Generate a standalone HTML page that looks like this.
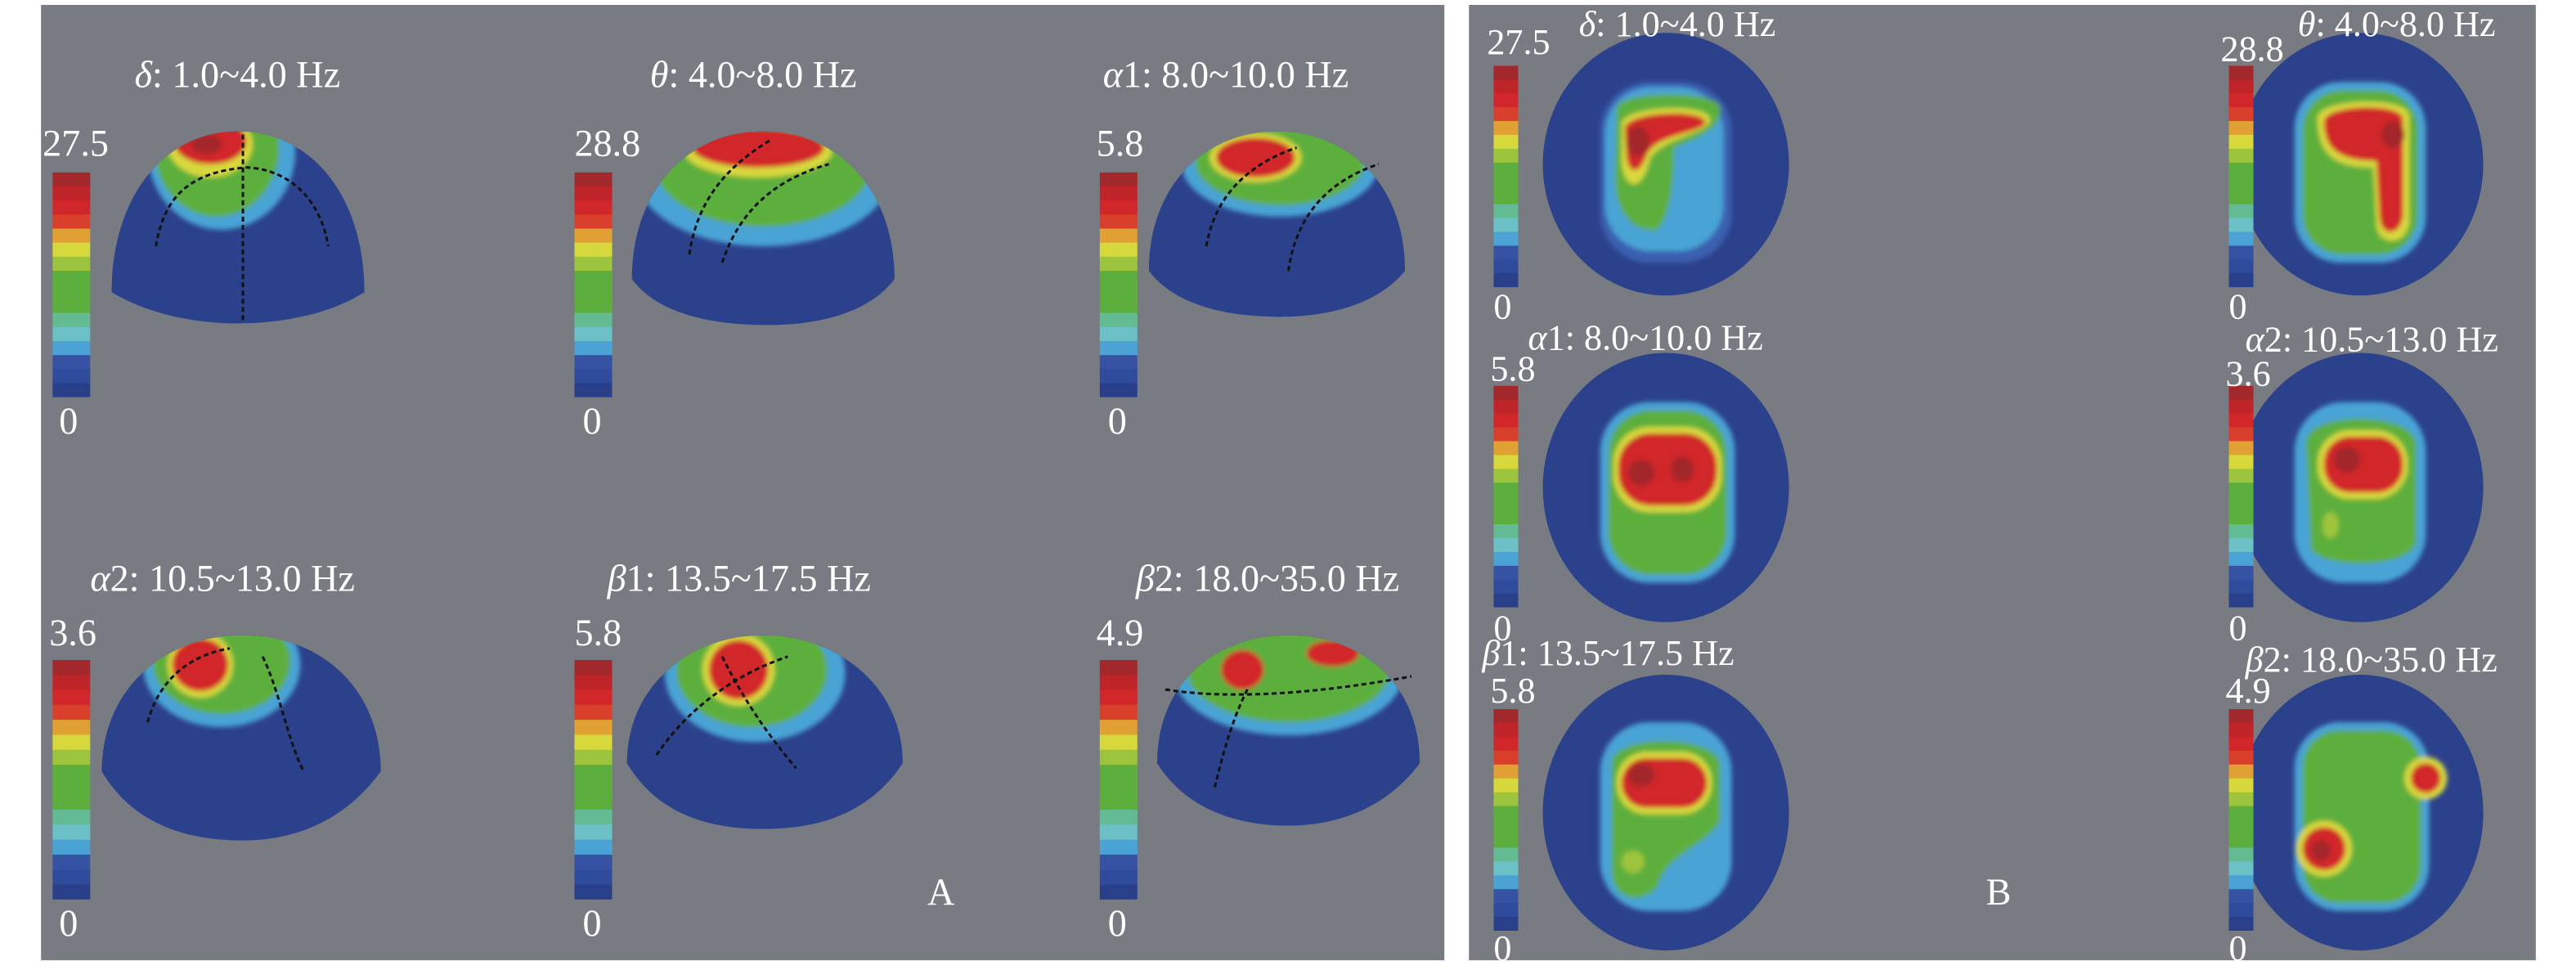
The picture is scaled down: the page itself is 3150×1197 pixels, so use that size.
<!DOCTYPE html>
<html><head><meta charset="utf-8"><style>
html,body{margin:0;padding:0;background:#fff;}
svg{display:block}
text{font-family:"Liberation Serif",serif;fill:#fff;}
</style></head><body>
<svg width="3150" height="1197" viewBox="0 0 1569.5 596.4" preserveAspectRatio="none" xmlns="http://www.w3.org/2000/svg">
<defs>
<filter id="bl" x="-20%" y="-20%" width="140%" height="140%"><feGaussianBlur stdDeviation="1.5"/></filter>
<symbol id="cb" viewBox="0 0 10 16" preserveAspectRatio="none">
<rect y="0" width="10" height="1.05" fill="#a3282b"/><rect y="1" width="10" height="1.05" fill="#bf2428"/>
<rect y="2" width="10" height="1.05" fill="#d1272a"/><rect y="3" width="10" height="1.05" fill="#d9402c"/>
<rect y="4" width="10" height="1.05" fill="#e0a033"/><rect y="5" width="10" height="1.05" fill="#d7d83c"/>
<rect y="6" width="10" height="1.05" fill="#9dc43d"/><rect y="7" width="10" height="3.05" fill="#5daf3d"/>
<rect y="10" width="10" height="1.05" fill="#62bb93"/><rect y="11" width="10" height="1.05" fill="#6bc1c6"/>
<rect y="12" width="10" height="1.05" fill="#4aa3d4"/><rect y="13" width="10" height="1.05" fill="#3653a3"/>
<rect y="14" width="10" height="1.05" fill="#2e4b9c"/><rect y="15" width="10" height="1" fill="#2a3f8a"/>
</symbol>
<path id="p1" d="M68,178 C68,120 100,80 145,80 C190,80 222,120 222,178 C200,192 170,197 145,197 C115,197 88,190 68,178 Z"/>
<path id="p2" d="M385,170 C385,115 420,80 465,80 C510,80 545,115 545,170 C530,190 500,198 468,198 C430,198 400,190 385,170 Z"/>
<path id="p3" d="M700,165 C700,112 735,80 778,80 C821,80 856,112 856,165 C840,185 810,193 780,193 C745,193 715,185 700,165 Z"/>
<path id="p4" d="M62,470 C62,420 100,387 148,387 C196,387 232,420 232,470 C210,500 180,512 148,512 C110,512 80,500 62,470 Z"/>
<path id="p5" d="M382,465 C382,418 420,387 465,387 C510,387 550,418 550,465 C530,495 500,505 465,505 C430,505 400,495 382,465 Z"/>
<path id="p6" d="M705,465 C705,415 742,387 785,387 C828,387 865,415 865,465 C845,492 815,503 785,503 C752,503 722,492 705,465 Z"/>
<clipPath id="h1"><use href="#p1"/></clipPath><clipPath id="h2"><use href="#p2"/></clipPath>
<clipPath id="h3"><use href="#p3"/></clipPath><clipPath id="h4"><use href="#p4"/></clipPath>
<clipPath id="h5"><use href="#p5"/></clipPath><clipPath id="h6"><use href="#p6"/></clipPath>
</defs>
<rect width="1569.5" height="596.4" fill="#fff"/>
<rect x="25" y="3" width="855" height="582" fill="#787b82"/>
<rect x="895" y="3" width="650" height="582" fill="#787b82"/>

<!-- Panel A heads -->
<use href="#p1" fill="#2c418b"/><use href="#p2" fill="#2c418b"/><use href="#p3" fill="#2c418b"/>
<use href="#p4" fill="#2c418b"/><use href="#p5" fill="#2c418b"/><use href="#p6" fill="#2c418b"/>
<g clip-path="url(#h1)"><g filter="url(#bl)">
<ellipse cx="135" cy="92" rx="45" ry="48" fill="#4aa3d4"/><ellipse cx="132" cy="90" rx="38" ry="42" fill="#5daf3d"/>
<ellipse cx="128" cy="88" rx="26" ry="20" fill="#d7d83c"/><ellipse cx="128" cy="86" rx="22" ry="14" fill="#d1272a"/>
<ellipse cx="126" cy="88" rx="9" ry="6" fill="#a3282b"/></g></g>
<g clip-path="url(#h2)"><g filter="url(#bl)">
<ellipse cx="465" cy="105" rx="78" ry="45" fill="#4aa3d4"/><ellipse cx="465" cy="100" rx="66" ry="38" fill="#5daf3d"/>
<ellipse cx="462" cy="92" rx="45" ry="16" fill="#d7d83c"/><ellipse cx="462" cy="90" rx="40" ry="12" fill="#d1272a"/></g></g>
<g clip-path="url(#h3)"><g filter="url(#bl)">
<ellipse cx="780" cy="100" rx="60" ry="32" fill="#4aa3d4"/><ellipse cx="780" cy="98" rx="52" ry="27" fill="#5daf3d"/>
<ellipse cx="765" cy="96" rx="28" ry="15" fill="#d7d83c"/><ellipse cx="765" cy="96" rx="24" ry="12" fill="#d1272a"/></g></g>
<g clip-path="url(#h4)"><g filter="url(#bl)">
<ellipse cx="135" cy="405" rx="48" ry="38" fill="#4aa3d4"/><ellipse cx="135" cy="403" rx="42" ry="32" fill="#5daf3d"/>
<ellipse cx="122" cy="405" rx="20" ry="20" fill="#d7d83c"/><ellipse cx="122" cy="405" rx="17" ry="16" fill="#d1272a"/></g></g>
<g clip-path="url(#h5)"><g filter="url(#bl)">
<ellipse cx="460" cy="410" rx="55" ry="42" fill="#4aa3d4"/><ellipse cx="458" cy="408" rx="46" ry="35" fill="#5daf3d"/>
<ellipse cx="450" cy="408" rx="22" ry="22" fill="#d7d83c"/><ellipse cx="450" cy="408" rx="18" ry="18" fill="#d1272a"/></g></g>
<g clip-path="url(#h6)"><g filter="url(#bl)">
<ellipse cx="785" cy="410" rx="70" ry="38" fill="#4aa3d4"/><ellipse cx="785" cy="408" rx="62" ry="32" fill="#5daf3d"/>
<ellipse cx="757" cy="408" rx="13" ry="12" fill="#d1272a"/><ellipse cx="812" cy="398" rx="16" ry="8" fill="#d1272a"/></g></g>
<!-- dotted lines -->
<g stroke="#111" stroke-width="1.5" stroke-dasharray="3,2" fill="none">
<path d="M148,82 L148,195"/><path d="M95,150 C100,120 115,105 150,102 C175,103 195,120 200,150"/>
<path d="M420,155 C425,120 445,100 470,85"/><path d="M440,160 C450,130 470,110 505,100"/>
<path d="M735,150 C740,120 760,100 790,90"/><path d="M785,165 C790,130 810,110 840,100"/>
<path d="M90,440 C95,420 110,400 140,395"/><path d="M160,400 C170,420 175,450 185,470"/>
<path d="M400,460 C420,430 450,410 480,400"/><path d="M440,400 C455,430 470,450 485,468"/>
<path d="M710,420 C740,425 790,425 860,412"/><path d="M760,420 C750,440 745,460 740,480"/>
</g>

<use href="#cb" x="32" y="105" width="23" height="137"/>
<use href="#cb" x="350" y="105" width="23" height="137"/>
<use href="#cb" x="670" y="105" width="23" height="137"/>
<use href="#cb" x="32" y="402" width="23" height="146"/>
<use href="#cb" x="350" y="402" width="23" height="146"/>
<use href="#cb" x="670" y="402" width="23" height="146"/>

<g font-size="23">
<text x="82" y="53"><tspan font-style="italic">δ</tspan>: 1.0~4.0 Hz</text>
<text x="396" y="53"><tspan font-style="italic">θ</tspan>: 4.0~8.0 Hz</text>
<text x="672" y="53"><tspan font-style="italic">α</tspan>1: 8.0~10.0 Hz</text>
<text x="55" y="360"><tspan font-style="italic">α</tspan>2: 10.5~13.0 Hz</text>
<text x="370" y="360"><tspan font-style="italic">β</tspan>1: 13.5~17.5 Hz</text>
<text x="692" y="360"><tspan font-style="italic">β</tspan>2: 18.0~35.0 Hz</text>
<text x="26" y="95">27.5</text><text x="350" y="95">28.8</text><text x="668" y="95">5.8</text>
<text x="36" y="264">0</text><text x="355" y="264">0</text><text x="675" y="264">0</text>
<text x="30" y="393">3.6</text><text x="350" y="393">5.8</text><text x="668" y="393">4.9</text>
<text x="36" y="570">0</text><text x="355" y="570">0</text><text x="675" y="570">0</text>
<text x="565" y="551">A</text>
<text x="1210" y="551">B</text>
</g>

<!-- Panel B -->
<ellipse cx="1015" cy="100" rx="75" ry="80" fill="#2c418b"/>
<ellipse cx="1438" cy="100" rx="75" ry="80" fill="#2c418b"/>
<ellipse cx="1015" cy="297" rx="75" ry="82" fill="#2c418b"/>
<ellipse cx="1438" cy="297" rx="75" ry="82" fill="#2c418b"/>
<ellipse cx="1015" cy="495" rx="75" ry="84" fill="#2c418b"/>
<ellipse cx="1438" cy="495" rx="75" ry="84" fill="#2c418b"/>
<g filter="url(#bl)">
<rect x="975" y="50" width="80" height="110" rx="30" fill="#3a61b0"/>
<rect x="978" y="53" width="72" height="100" rx="28" fill="#4aa3d4"/>
<path d="M985,65 C990,55 1045,55 1048,65 C1050,80 1030,85 1020,90 C1020,110 1018,130 1010,140 C995,142 985,130 984,110 Z" fill="#5daf3d"/>
<path d="M988,75 C990,65 1038,62 1042,72 C1043,82 1010,84 1005,98 C1000,118 990,115 988,100 Z" fill="#d7d83c"/>
<path d="M990,78 C992,68 1036,66 1039,74 C1040,81 1008,81 1003,95 C998,108 992,105 991,95 Z" fill="#d1272a"/>
<ellipse cx="998" cy="86" rx="7" ry="9" fill="#a3282b"/>

<rect x="1398" y="50" width="80" height="110" rx="28" fill="#4aa3d4"/>
<rect x="1403" y="55" width="70" height="100" rx="24" fill="#5daf3d"/>
<path d="M1412,72 C1412,60 1465,58 1468,70 L1468,135 C1466,150 1450,150 1448,138 L1446,102 C1420,102 1412,92 1412,72 Z" fill="#d7d83c"/>
<path d="M1416,74 C1416,64 1462,62 1464,72 L1464,132 C1462,144 1452,144 1450,134 L1448,98 C1422,98 1416,88 1416,74 Z" fill="#d1272a"/>
<ellipse cx="1458" cy="82" rx="7" ry="8" fill="#a3282b"/>

<rect x="975" y="245" width="82" height="110" rx="30" fill="#4aa3d4"/>
<rect x="980" y="250" width="72" height="100" rx="26" fill="#5daf3d"/>
<rect x="983" y="260" width="66" height="52" rx="22" fill="#d7d83c"/>
<rect x="986" y="264" width="60" height="44" rx="20" fill="#d1272a"/>
<ellipse cx="1000" cy="288" rx="8" ry="8" fill="#a3282b"/><ellipse cx="1025" cy="286" rx="7" ry="8" fill="#a3282b"/>

<rect x="1398" y="245" width="80" height="110" rx="30" fill="#4aa3d4"/>
<path d="M1405,270 C1405,250 1470,250 1472,270 L1472,330 C1470,345 1420,348 1408,335 Z" fill="#5daf3d"/>
<rect x="1412" y="262" width="55" height="42" rx="20" fill="#d7d83c"/>
<rect x="1416" y="266" width="48" height="34" rx="16" fill="#d1272a"/>
<ellipse cx="1430" cy="280" rx="8" ry="8" fill="#a3282b"/>
<ellipse cx="1420" cy="320" rx="5" ry="8" fill="#9dc43d"/>

<rect x="975" y="440" width="80" height="115" rx="30" fill="#4aa3d4"/>
<path d="M982,465 C982,447 1045,447 1048,465 L1048,500 C1040,515 1015,520 1010,540 C1000,552 982,548 982,530 Z" fill="#5daf3d"/>
<rect x="985" y="458" width="58" height="38" rx="18" fill="#d7d83c"/>
<rect x="988" y="462" width="52" height="30" rx="15" fill="#d1272a"/>
<ellipse cx="1000" cy="472" rx="8" ry="7" fill="#a3282b"/>
<ellipse cx="995" cy="525" rx="7" ry="7" fill="#9dc43d"/>

<rect x="1398" y="440" width="82" height="115" rx="28" fill="#4aa3d4"/>
<rect x="1403" y="445" width="72" height="105" rx="22" fill="#5daf3d"/>
<circle cx="1478" cy="474" r="13" fill="#d7d83c"/><circle cx="1478" cy="474" r="9" fill="#d1272a"/>
<circle cx="1416" cy="517" r="17" fill="#d7d83c"/><circle cx="1416" cy="517" r="13" fill="#d1272a"/>
<circle cx="1414" cy="518" r="6" fill="#a3282b"/>
</g>

<use href="#cb" x="910" y="40" width="15" height="135"/>
<use href="#cb" x="1358" y="40" width="15" height="135"/>
<use href="#cb" x="910" y="235" width="15" height="135"/>
<use href="#cb" x="1358" y="235" width="15" height="135"/>
<use href="#cb" x="910" y="432" width="15" height="135"/>
<use href="#cb" x="1358" y="432" width="15" height="135"/>

<g font-size="22">
<text x="962" y="22"><tspan font-style="italic">δ</tspan>: 1.0~4.0 Hz</text>
<text x="1400" y="22"><tspan font-style="italic">θ</tspan>: 4.0~8.0 Hz</text>
<text x="906" y="33">27.5</text><text x="1353" y="37">28.8</text>
<text x="910" y="194">0</text><text x="1358" y="194">0</text>
<text x="931" y="213"><tspan font-style="italic">α</tspan>1: 8.0~10.0 Hz</text>
<text x="1368" y="214"><tspan font-style="italic">α</tspan>2: 10.5~13.0 Hz</text>
<text x="908" y="232">5.8</text><text x="1356" y="235">3.6</text>
<text x="910" y="390">0</text><text x="1358" y="390">0</text>
<text x="903" y="405"><tspan font-style="italic">β</tspan>1: 13.5~17.5 Hz</text>
<text x="1368" y="409"><tspan font-style="italic">β</tspan>2: 18.0~35.0 Hz</text>
<text x="908" y="428">5.8</text><text x="1356" y="428">4.9</text>
<text x="910" y="585">0</text><text x="1358" y="585">0</text>
</g>
</svg>
</body></html>
